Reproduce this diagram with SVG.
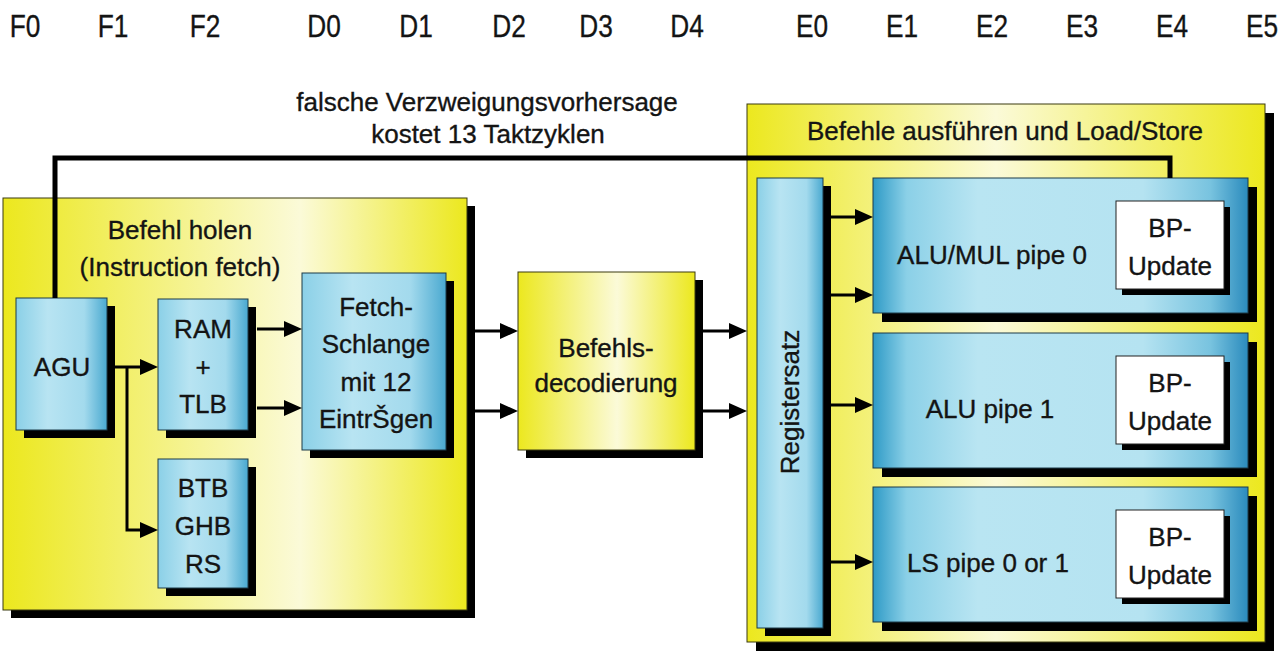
<svg xmlns="http://www.w3.org/2000/svg" width="1280" height="658" viewBox="0 0 1280 658">
<defs>
  <linearGradient id="yelL" x1="0" y1="0" x2="1" y2="0">
    <stop offset="0" stop-color="#ece81e"/>
    <stop offset="0.64" stop-color="#fbfad8"/>
    <stop offset="1" stop-color="#ece81e"/>
  </linearGradient>
  <linearGradient id="yelD" x1="0" y1="0" x2="1" y2="0">
    <stop offset="0" stop-color="#ece81e"/>
    <stop offset="0.56" stop-color="#fbfad8"/>
    <stop offset="1" stop-color="#ece81e"/>
  </linearGradient>
  <linearGradient id="yelR" x1="0" y1="0" x2="1" y2="0">
    <stop offset="0" stop-color="#ece81e"/>
    <stop offset="0.48" stop-color="#fbfad8"/>
    <stop offset="1" stop-color="#ece81e"/>
  </linearGradient>
  <linearGradient id="bluePipe" x1="0" y1="0" x2="1" y2="0">
    <stop offset="0" stop-color="#2e9ac6"/>
    <stop offset="0.09" stop-color="#8bd0e7"/>
    <stop offset="0.28" stop-color="#b9e5f2"/>
    <stop offset="0.72" stop-color="#b5e3f1"/>
    <stop offset="0.9" stop-color="#78c3df"/>
    <stop offset="1" stop-color="#2b8bbd"/>
  </linearGradient>
  <linearGradient id="blueBox" x1="0" y1="0" x2="1" y2="0">
    <stop offset="0" stop-color="#8bd0e7"/>
    <stop offset="0.35" stop-color="#b8e4f2"/>
    <stop offset="0.75" stop-color="#a3daed"/>
    <stop offset="1" stop-color="#4aa9d0"/>
  </linearGradient>
  <marker id="arr" markerUnits="userSpaceOnUse" markerWidth="18" markerHeight="16" refX="12" refY="8" orient="auto" viewBox="0 0 18 16">
    <path d="M0,0 L18,8 L0,16 z" fill="#000"/>
  </marker>
</defs>
<style>
  text { font-family: "Liberation Sans", Arial, sans-serif; font-size: 26px; fill: #141414; stroke: #141414; stroke-width: 0.35; text-anchor: middle; }
  .stage text { font-size: 32px; }
  .sh { fill: #000; }
  .yb { stroke: #3a3a10; stroke-width: 1; }
  .bb { fill: url(#blueBox); stroke: #1d3a48; stroke-width: 1; }
  .pb { fill: url(#bluePipe); stroke: #1d3a48; stroke-width: 1; }
  .wb { fill: #fff; stroke: #222; stroke-width: 1; }
  .conn { fill: none; stroke: #000; stroke-width: 3; marker-end: url(#arr); }
  .fb { fill: none; stroke: #000; stroke-width: 5; }
</style>

<g id="stages" class="stage" transform="scale(0.82,1)">
  <text x="30.5" y="37">F0</text>
  <text x="137.8" y="37">F1</text>
  <text x="250" y="37">F2</text>
  <text x="395.1" y="37">D0</text>
  <text x="507.3" y="37">D1</text>
  <text x="620.7" y="37">D2</text>
  <text x="726.8" y="37">D3</text>
  <text x="837.8" y="37">D4</text>
  <text x="990.2" y="37">E0</text>
  <text x="1100" y="37">E1</text>
  <text x="1209.8" y="37">E2</text>
  <text x="1319.5" y="37">E3</text>
  <text x="1429.3" y="37">E4</text>
  <text x="1539" y="37">E5</text>
</g>

<g id="mispredict-label">
  <text x="487" y="111">falsche Verzweigungsvorhersage</text>
  <text x="488" y="143">kostet 13 Taktzyklen</text>
</g>

<g id="fetch-stage">
  <rect class="sh" x="11" y="206" width="464" height="412"/>
  <rect class="yb" x="3" y="198" width="464" height="412" fill="url(#yelL)"/>
  <text x="180" y="239">Befehl holen</text>
  <text x="180" y="276">(Instruction fetch)</text>
</g>

<g id="execute-stage">
  <rect class="sh" x="756" y="113" width="518" height="538"/>
  <rect class="yb" x="747" y="104" width="518" height="538" fill="url(#yelR)"/>
  <text x="1005" y="140">Befehle ausführen und Load/Store</text>
</g>

<g id="agu">
  <rect class="sh" x="24" y="306" width="91" height="132"/>
  <rect class="bb" x="16" y="298" width="91" height="132"/>
  <text x="62" y="376">AGU</text>
</g>

<g id="ram-tlb">
  <rect class="sh" x="166" y="307" width="90" height="131"/>
  <rect class="bb" x="158" y="299" width="90" height="131"/>
  <text x="203" y="338">RAM</text>
  <text x="203" y="376">+</text>
  <text x="203" y="413">TLB</text>
</g>

<g id="btb-ghb-rs">
  <rect class="sh" x="166" y="467" width="90" height="129"/>
  <rect class="bb" x="158" y="459" width="90" height="129"/>
  <text x="203" y="497">BTB</text>
  <text x="203" y="535">GHB</text>
  <text x="203" y="573">RS</text>
</g>

<g id="fetch-queue">
  <rect class="sh" x="310" y="281" width="144" height="177"/>
  <rect class="bb" x="302" y="273" width="144" height="177"/>
  <text x="376" y="316">Fetch-</text>
  <text x="376" y="353">Schlange</text>
  <text x="376" y="391">mit 12</text>
  <text x="376" y="428">EintrŠgen</text>
</g>

<g id="decoder">
  <rect class="sh" x="526" y="280" width="177" height="178"/>
  <rect class="yb" x="518" y="272" width="177" height="178" fill="url(#yelD)"/>
  <text x="606" y="357">Befehls-</text>
  <text x="606" y="392">decodierung</text>
</g>

<g id="registersatz">
  <rect class="sh" x="765" y="186" width="66" height="450"/>
  <rect class="bb" x="757" y="178" width="66" height="450"/>
  <text transform="translate(799,402) rotate(-90)">Registersatz</text>
</g>

<g id="pipe-alu-mul-0">
  <rect class="sh" x="882" y="187" width="375" height="135"/>
  <rect class="pb" x="873" y="178" width="375" height="135"/>
  <text x="992" y="264">ALU/MUL pipe 0</text>
  <rect class="sh" x="1122" y="207" width="108" height="88"/>
  <rect class="wb" x="1116" y="201" width="108" height="88"/>
  <text x="1170" y="237">BP-</text>
  <text x="1170" y="275">Update</text>
</g>

<g id="pipe-alu-1">
  <rect class="sh" x="882" y="342" width="375" height="135"/>
  <rect class="pb" x="873" y="333" width="375" height="135"/>
  <text x="990" y="418">ALU pipe 1</text>
  <rect class="sh" x="1122" y="362" width="108" height="88"/>
  <rect class="wb" x="1116" y="356" width="108" height="88"/>
  <text x="1170" y="392">BP-</text>
  <text x="1170" y="430">Update</text>
</g>

<g id="pipe-ls">
  <rect class="sh" x="882" y="496" width="375" height="135"/>
  <rect class="pb" x="873" y="487" width="375" height="135"/>
  <text x="988" y="572">LS pipe 0 or 1</text>
  <rect class="sh" x="1122" y="516" width="108" height="88"/>
  <rect class="wb" x="1116" y="510" width="108" height="88"/>
  <text x="1170" y="546">BP-</text>
  <text x="1170" y="584">Update</text>
</g>

<g id="connectors">
  <path class="conn" d="M115 367 H152"/>
  <path class="conn" d="M127 367 V530 H152"/>
  <path class="conn" d="M257 329 H296"/>
  <path class="conn" d="M257 408 H296"/>
  <path class="conn" d="M475 331 H512"/>
  <path class="conn" d="M475 411 H512"/>
  <path class="conn" d="M703 331 H741"/>
  <path class="conn" d="M703 411 H741"/>
  <path class="conn" d="M831 217 H867"/>
  <path class="conn" d="M831 295 H867"/>
  <path class="conn" d="M831 405 H867"/>
  <path class="conn" d="M831 562 H867"/>
  <path class="fb" d="M55 298 V158 H1170 V178"/>
</g>
</svg>
